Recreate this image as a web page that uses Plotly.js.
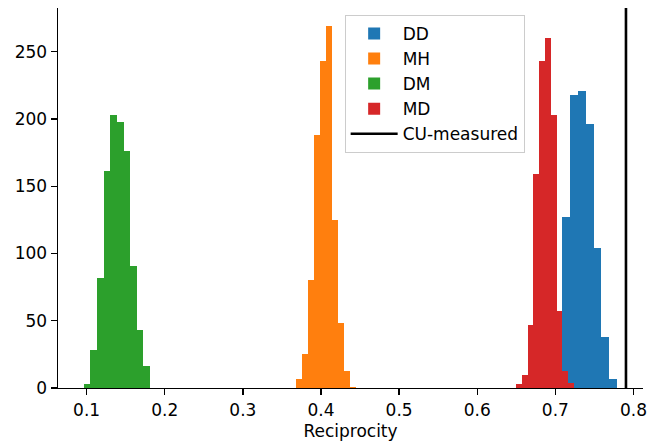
<!DOCTYPE html>
<html><head><meta charset="utf-8">
<script src="https://cdn.plot.ly/plotly-3.0.1.min.js"></script>
<style>html,body{margin:0;padding:0;background:#fff}#chart{width:647px;height:445px}</style>
</head><body><div id="chart"></div>
<script>
// Histogram data (bin start, bin width, counts per bin)
const seriesNames = ['DD', 'MH', 'DM', 'MD'];
const ddStart = 0.6790, ddWidth = 0.0100;
const ddCounts = [6, 27, 50, 127, 218, 221, 196, 104, 38, 7];
const mhStart = 0.3680, mhWidth = 0.00768;
const mhCounts = [7, 25, 80, 188, 243, 269, 125, 48, 13, 1];
const dmStart = 0.0965, dmWidth = 0.00846;
const dmCounts = [3, 28, 82, 161, 203, 198, 176, 91, 43, 16];
const mdStart = 0.6497, mdWidth = 0.00742;
const mdCounts = [3, 10, 47, 159, 243, 260, 203, 57, 13, 4];
const cuMeasuredName = 'CU-measured';
const cuMeasured = 0.7904;
const xTicks = [0.1, 0.2, 0.3, 0.4, 0.5, 0.6, 0.7, 0.8];
const xTickText = ['0.1', '0.2', '0.3', '0.4', '0.5', '0.6', '0.7', '0.8'];
const yTicks = [0, 50, 100, 150, 200, 250];

const colors = ['#1f77b4', '#ff7f0e', '#2ca02c', '#d62728'];
const series = [
  [ddStart, ddWidth, ddCounts],
  [mhStart, mhWidth, mhCounts],
  [dmStart, dmWidth, dmCounts],
  [mdStart, mdWidth, mdCounts]
];

const traces = series.map(([start, w, counts], i) => ({
  type: 'bar',
  name: seriesNames[i],
  legendgroup: seriesNames[i],
  x: counts.map((_, k) => start + (k + 0.5) * w),
  y: counts,
  width: counts.map(() => w),
  marker: {color: colors[i], line: {width: 0}},
  hoverinfo: 'x+y'
}));

traces.push({
  type: 'scatter',
  mode: 'lines',
  name: cuMeasuredName,
  legendgroup: cuMeasuredName,
  x: [cuMeasured, cuMeasured],
  y: [0, 1],
  yaxis: 'y2',
  line: {color: '#000000', width: 2.6}
});

const fontFam = 'DejaVu Sans, sans-serif';
const axisCommon = {
  showgrid: false, zeroline: false, showline: true, linecolor: '#000', linewidth: 1.4,
  ticks: 'outside', ticklen: 6, tickwidth: 1.4, tickcolor: '#000',
  tickfont: {family: fontFam, size: 17, color: '#000'}
};

const layout = {
  width: 647, height: 445,
  margin: {l: 58, r: 4, t: 8, b: 57},
  paper_bgcolor: '#fff', plot_bgcolor: '#fff',
  font: {family: fontFam, size: 17, color: '#000'},
  barmode: 'overlay',
  bargap: 0,
  xaxis: Object.assign({}, axisCommon, {
    range: [0.0634, 0.8122], tickvals: xTicks, ticktext: xTickText,
    title: {text: 'Reciprocity', font: {family: fontFam, size: 17, color: '#000'}, standoff: 6}
  }),
  yaxis: Object.assign({}, axisCommon, {range: [0, 282.5], tickvals: yTicks}),
  yaxis2: {overlaying: 'y', range: [0, 1], visible: false, fixedrange: true},
  showlegend: true,
  legend: {
    x: 0.49, y: 0.982, xanchor: 'left', yanchor: 'top',
    bordercolor: '#cccccc', borderwidth: 1, bgcolor: 'rgba(255,255,255,0.8)',
    font: {family: fontFam, size: 17, color: '#000'},
    itemwidth: 47,
    tracegroupgap: 0
  }
};

Plotly.newPlot('chart', traces, layout, {displayModeBar: false, staticPlot: true});
</script>
</body></html>
